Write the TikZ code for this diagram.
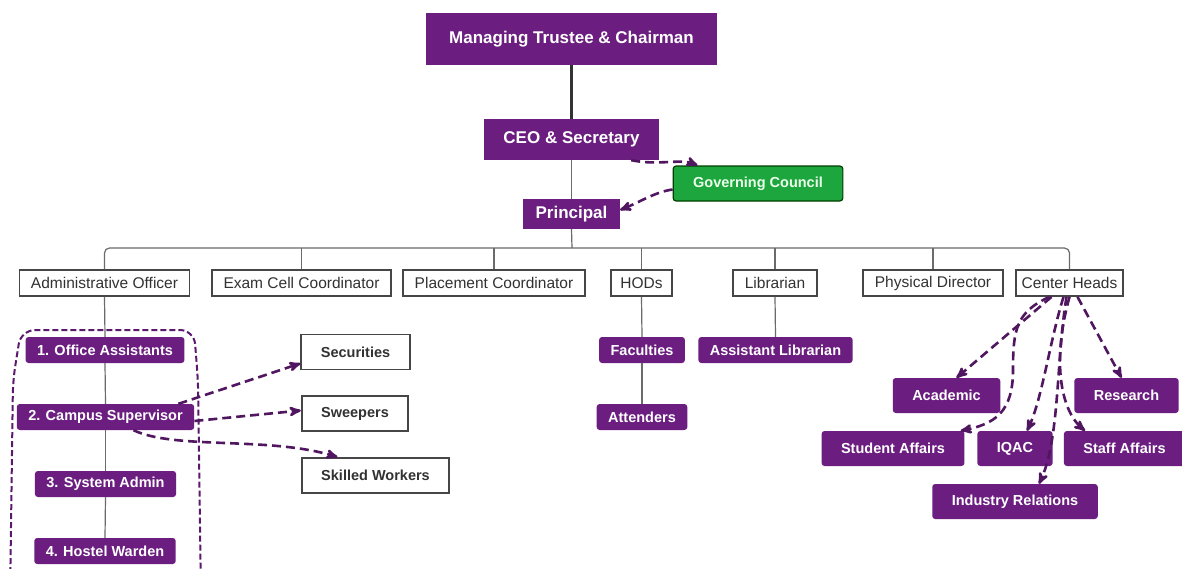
\documentclass[tikz,border=0pt]{standalone}
\usepackage{fontspec}
\setmainfont{Liberation Sans}
\usetikzlibrary{arrows}
\definecolor{orgpurple}{RGB}{107,30,128}
\definecolor{orggreen}{RGB}{30,166,62}
\definecolor{boxgray}{RGB}{70,70,70}
\definecolor{txtgray}{RGB}{50,50,50}
\tikzset{
  orgnode/.style = {align=center, inner ysep=0pt, text centered},
  org_top/.style = {orgnode, fill=orgpurple, text=white,
    font=\bfseries\fontsize{17}{20}\selectfont},% direction
  org_gc/.style = {orgnode, fill=orggreen, draw=green!25!black,
    line width=1.2pt, rounded corners=3pt, text=white!92!green,
    font=\bfseries\fontsize{14.5}{17}\selectfont,
    inner xsep=20pt, minimum height=35pt},% conseil
  org_lvl/.style = {orgnode, draw=boxgray, line width=1.8pt, fill=white,
    text=txtgray, font=\fontsize{15.5}{18}\selectfont,
    inner xsep=11.5pt, minimum height=26pt},% services
  org_sub/.style = {orgnode, fill=orgpurple, text=white, rounded corners=3pt,
    font=\bfseries\fontsize{14.5}{17}\selectfont,
    inner xsep=11.5pt, minimum height=26pt},% personnel
  org_big/.style = {org_sub, inner xsep=19.5pt, minimum height=35pt},
  org_wht/.style = {orgnode, draw=boxgray, line width=1.8pt, fill=white,
    text=txtgray, font=\bfseries\fontsize{14.5}{17}\selectfont,
    inner xsep=19.5pt, minimum height=35pt},
  link/.style = {draw=boxgray!80, line width=1.2pt},
  dlink/.style = {->, >=stealth', draw=orgpurple!75!black, line width=2.6pt,
    dash pattern=on 9pt off 5pt},
}
\begin{document}
\begin{tikzpicture}[x=1pt, y=-1pt]
\useasboundingbox (0,0) rectangle (1182,568);
\clip (0,0) rectangle (1182,568);
\fill[white] (0,0) rectangle (1182,568);

% groupe administratif
\draw[orgpurple!85!black, line width=2pt, dash pattern=on 6pt off 3pt, rounded corners=14pt]
  (10,600) -- (13,380) -- (21,330) -- (194,330) -- (198,380) -- (201,600);

\node [org_top, inner xsep=23.5pt, minimum height=52pt] (mtc) at (571.5,39) {Managing Trustee \& Chairman};
\node [org_top, inner xsep=19.5pt, minimum height=41pt] (ceo) at (571.5,139.5) {CEO \& Secretary};
\node [org_top, inner xsep=12.5pt, minimum height=30pt] (prin) at (571.5,214) {Principal};
\node [org_gc] (gc) at (758,183.5) {Governing Council};

\node [org_lvl] (adm) at (104.5,283) {Administrative Officer};
\node [org_lvl] (exam) at (301.5,283) {Exam Cell Coordinator};
\node [org_lvl] (plc) at (494,283) {Placement Coordinator};
\node [org_lvl, inner xsep=9.5pt] (hod) at (641.5,283) {HODs};
\node [org_lvl] (lib) at (775,283) {Librarian};
\node [org_lvl] (phy) at (933,283) {Physical Director};
\node [org_lvl, inner xsep=5.5pt] (ch) at (1069.5,283) {Center Heads};

\node [org_sub] (oa) at (105,350) {1. Office Assistants};
\node [org_sub] (cs) at (105.5,417) {2. Campus Supervisor};
\node [org_sub] (sa) at (105.5,484) {3. System Admin};
\node [org_sub] (hw) at (105,551) {4. Hostel Warden};

\node [org_wht] (sec) at (355.5,352) {Securities};
\node [org_wht] (swp) at (355,413.5) {Sweepers};
\node [org_wht] (skw) at (375.5,475.5) {Skilled Workers};

\node [org_sub] (fac) at (642,350) {Faculties};
\node [org_sub] (att) at (642,417) {Attenders};
\node [org_sub] (alib) at (775.5,350) {Assistant Librarian};

\node [org_big] (acad) at (946.5,395.5) {Academic};
\node [org_big] (res) at (1126.5,395.5) {Research};
\node [org_big] (stu) at (893,448.5) {Student Affairs};
\node [org_big] (iqac) at (1015,448.5) {IQAC};
\node [org_big] (stf) at (1124.5,448.5) {Staff Affairs};
\node [org_big] (ind) at (1015,501.5) {Industry Relations};

% liens hierarchiques
\draw [draw=black!80, line width=3pt] (mtc.south) -- (ceo.north);
\draw [link] (ceo.south) -- (prin.north);
\coordinate (bus) at (572,248);
\draw [link] (prin.south) -- (bus);
\draw [link, rounded corners=5pt] (adm.north) |- (bus) -| (ch.north);
\foreach \n in {exam,plc,hod,lib,phy}
  \draw [link] (\n.north) -- (\n.north |- bus);
\draw [link] (adm.south) -- (oa.north);
\draw [link] (oa.south) -- (cs.north);
\draw [link] (cs.south) -- (sa.north);
\draw [link] (sa.south) -- (hw.north);
\draw [link] (hod.south) -- (fac.north);
\draw [link] (fac.south) -- (att.north);
\draw [link] (lib.south) -- (alib.north);

% liens en tirets
\draw [dlink] ([xshift=-28pt]ceo.south east) .. controls (660,166) and (680,158) .. ([xshift=25pt]gc.north west);
\draw [dlink] ([yshift=-6pt]gc.west) .. controls (655,192) and (640,202) .. ([yshift=4pt]prin.east);
\draw [dlink] ([xshift=-16pt]cs.north east) -- ([yshift=7pt]sec.south west);
\draw [dlink] ([yshift=-4pt]cs.east) -- ([yshift=3pt]swp.west);
\draw [dlink] ([xshift=28pt]cs.south) .. controls (175,450) and (270,436) .. ([xshift=-38pt]skw.north);
\draw [dlink] ([xshift=-18pt]ch.south) -- ([xshift=10pt]acad.north);
\draw [dlink] ([xshift=-20pt]ch.south) .. controls (1016,312) and (1013,330) .. (1013,370)
  .. controls (1013,412) and (995,424) .. ([xshift=-4pt]stu.north east);
\draw [dlink] ([xshift=-6pt]ch.south) .. controls (1050,340) and (1042,400) .. ([xshift=12pt]iqac.north);
\draw [dlink] ([xshift=-3pt]ch.south) .. controls (1056,360) and (1060,440) .. ([xshift=24pt]ind.north);
\draw [dlink] ([xshift=0pt]ch.south) .. controls (1052,360) and (1060,410) .. ([xshift=-39.5pt]stf.north);
\draw [dlink] ([xshift=8pt]ch.south) -- ([xshift=-5pt]res.north);
\end{tikzpicture}
\end{document}
